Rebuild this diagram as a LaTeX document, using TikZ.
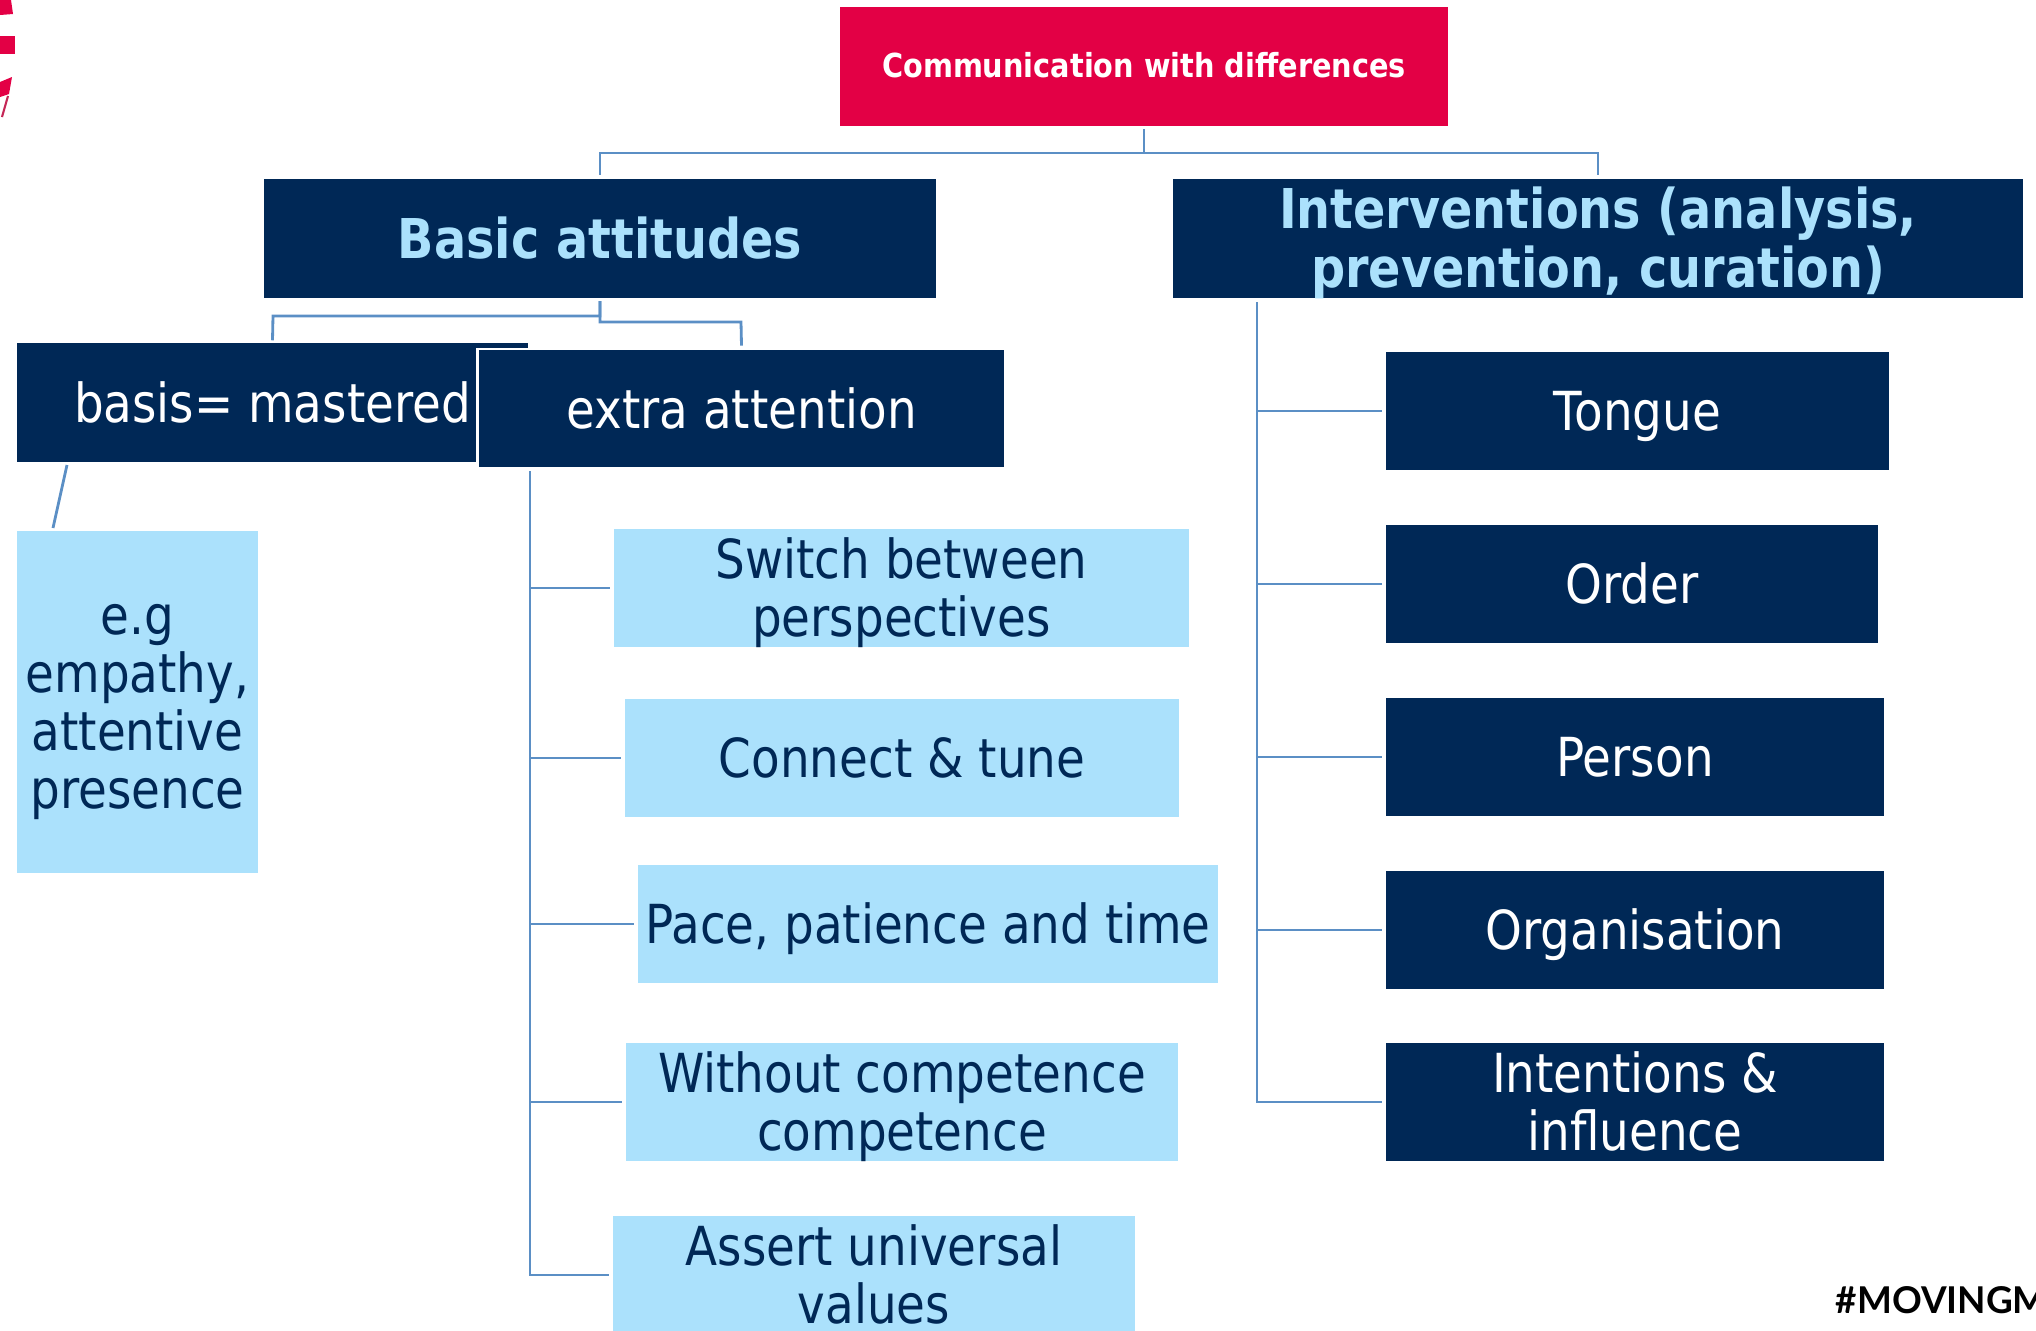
\documentclass[tikz,border=0pt]{standalone}
\usepackage{fontspec}
\usepackage{xcolor}
\setmainfont[FakeStretch=0.87]{DejaVu Sans}
\newfontfamily\tagfont{Lato}
\usetikzlibrary{calc}
\definecolor{navybox}{HTML}{002856}
\definecolor{skybox}{HTML}{ABE1FC}
\definecolor{crimsonbox}{HTML}{E30045}
\definecolor{linkblue}{HTML}{5B8FC5}
\newcommand{\boxtop}{\rule{0pt}{15.14pt}}
\newcommand{\boxfoot}{\rule[-4pt]{0pt}{4pt}}
\newcommand{\rootstrut}{\rule[-1.6pt]{0pt}{9.5pt}}
\newcommand{\rowstack}[1]{\raisebox{0pt}[\dimexpr\height-3pt\relax][\dimexpr\depth-3pt\relax]{\begin{tabular}{@{}c@{}}\rule{0pt}{16.09pt}#1\end{tabular}}}
\tikzset{
    basebox/.style={inner sep=0pt, align=center, font=\fontsize{15.3}{16.5}\selectfont},
    textrows/.style={execute at begin node=\boxtop, execute at end node=\boxfoot},
    darkbox/.style={basebox, textrows, fill=navybox, text=white},
    lightbox/.style={basebox, textrows, fill=skybox, text=navybox},
    headbox/.style={darkbox, text=skybox, font=\fontsize{15.6}{16.5}\selectfont\bfseries},
    rootbox/.style={basebox, fill=crimsonbox, text=white, font=\fontsize{9.4}{12}\selectfont\bfseries, execute at begin node=\rootstrut, execute at end node=\rootstrut},
    link/.style={draw=linkblue, line width=0.8pt}
}
\begin{document}
\begin{tikzpicture}[x=0.01cm, y=-0.01cm]
                \clip (0,0) rectangle (2036,1330);
                % logo remains
                \fill[crimsonbox] (0,0) -- (11,0) -- (13,14) -- (0,15) -- cycle;
                \fill[crimsonbox] (0,36) -- (15,36) -- (15,54) -- (0,54) -- cycle;
                \fill[crimsonbox] (0,82) -- (12,77) -- (9,94) -- (0,97) -- cycle;
                \draw[crimsonbox!70!gray, line width=0.6pt] (8,96) -- (2,117);
                % top level
                \node[rootbox, minimum width=6.08cm, minimum height=1.19cm] (root) at (1144,66.5) {Communication with differences};
                \node[headbox, minimum width=6.71cm, minimum height=1.19cm] (basic) at (600,238.5) {Basic attitudes};
                \node[headbox, minimum width=8.50cm, minimum height=1.19cm] (interv) at (1598,238.5) {\rowstack{Interventions (analysis,\\prevention, curation)}};
                % left branch
                \node[darkbox, minimum width=5.11cm, minimum height=1.19cm] (basis) at (272.5,402.5) {basis= mastered};
                \node[darkbox, draw=white, line width=0.8pt, minimum width=5.28cm, minimum height=1.19cm] (extra) at (741.5,408.5) {extra attention};
                \node[lightbox, minimum width=2.41cm, minimum height=3.42cm] (eg) at (137.5,702) {\rowstack{e.g\\empathy,\\attentive\\presence}};
                \node[lightbox, minimum width=5.75cm, minimum height=1.18cm] (sw) at (901.5,588) {\rowstack{Switch between\\perspectives}};
                \node[lightbox, minimum width=5.54cm, minimum height=1.18cm] (ct) at (902,758) {Connect \& tune};
                \node[lightbox, minimum width=5.80cm, minimum height=1.18cm] (pp) at (928,924) {Pace, patience and time};
                \node[lightbox, minimum width=5.52cm, minimum height=1.18cm] (wc) at (902,1102) {\rowstack{Without competence\\competence}};
                \node[lightbox, minimum width=5.22cm, minimum height=1.18cm] (au) at (874,1275) {\rowstack{Assert universal\\values}};
                % right branch
                \node[darkbox, minimum width=5.03cm, minimum height=1.18cm] (tg) at (1637.5,411) {Tongue};
                \node[darkbox, minimum width=4.92cm, minimum height=1.18cm] (od) at (1632,584) {Order};
                \node[darkbox, minimum width=4.98cm, minimum height=1.18cm] (pr) at (1635,757) {Person};
                \node[darkbox, minimum width=4.98cm, minimum height=1.18cm] (og) at (1635,930) {Organisation};
                \node[darkbox, minimum width=4.98cm, minimum height=1.18cm] (ii) at (1635,1102) {\rowstack{Intentions \&\\influence}};
                % tag
                \node[anchor=west, inner sep=0pt, font=\fontsize{10.5}{12}\tagfont\bfseries, text=black] (tag) at (1835,1300) {\#MOVINGM};
                % connectors
                \coordinate (rootfoot) at (1144,129);
                \coordinate (basicfoot) at (600,301);
                \coordinate (ltrunk) at (530,471);
                \coordinate (rtrunk) at (1257,302);
                \draw[link] (rootfoot) |- (600,153) -- ($(basic.north)+(0,-3)$);
                \draw[link] (rootfoot) |- (1598,153) -- ($(interv.north)+(0,-3)$);
                \draw[link] (basicfoot) |- (273,316) -- ($(basis.north)+(0,-2)$);
                \draw[link] (basicfoot) |- (741,322) -- ($(extra.north)+(0,-2)$);
                \draw[link] (67,465) -- (53,528);
                \foreach \b in {sw, ct, pp, wc, au} {
                    \draw[link, shorten >=0.8pt] (ltrunk) |- (\b.west);
                }
                \foreach \b in {tg, od, pr, og, ii} {
                    \draw[link, shorten >=0.8pt] (rtrunk) |- (\b.west);
                }
            \end{tikzpicture}
\end{document}
